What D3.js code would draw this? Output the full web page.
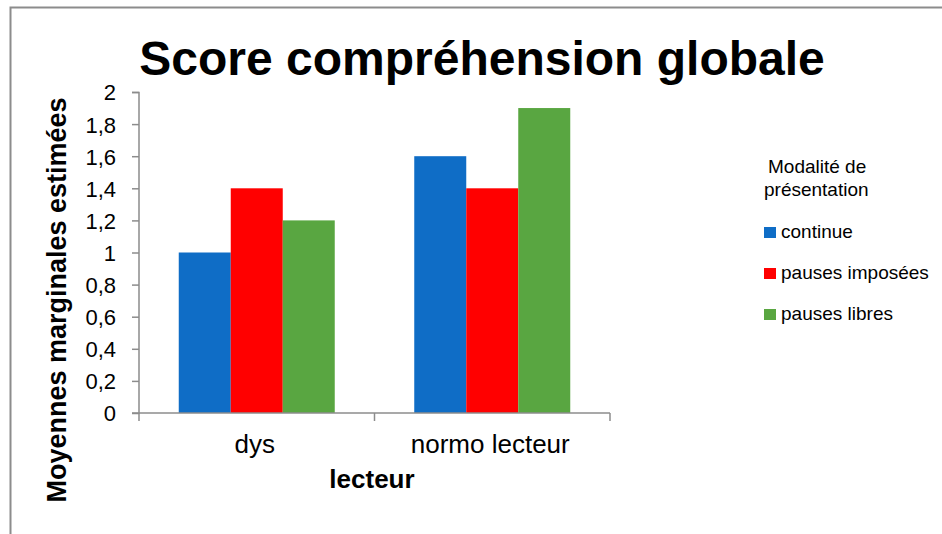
<!DOCTYPE html>
<html>
<head>
<meta charset="utf-8">
<script src="https://cdn.jsdelivr.net/npm/d3@7"></script>
<style>
  body { margin: 0; background: #fff; }
  text { font-family: "Liberation Sans", Arial, sans-serif; }
</style>
</head>
<body>
<script>
// data
var categories = ["dys", "normo lecteur"];
var seriesNames = ["continue", "pauses imposées", "pauses libres"];
var seriesColors = ["#0f6dc6", "#ff0000", "#59a641"];
var continueVals = [1, 1.6];
var imposeesVals = [1.4, 1.4];
var libresVals = [1.2, 1.9];
var yTicks = [0, 0.2, 0.4, 0.6, 0.8, 1, 1.2, 1.4, 1.6, 1.8, 2];

const canvWidth = 942, canvHeight = 534;
const margin = {top: 92, left: 139};
const width = 471, height = 321;

const svg = d3.select("body").append("svg")
    .attr("width", canvWidth)
    .attr("height", canvHeight);

// outer frame (only top and left visible)
svg.append("path")
    .attr("d", "M10.5,534 V7.5 H942")
    .attr("fill", "none")
    .attr("stroke", "#8c8c8c")
    .attr("stroke-width", 2);

const g = svg.append("g")
    .attr("transform", "translate(" + margin.left + "," + margin.top + ")");

var xScale = d3.scaleBand()
    .domain(categories)
    .range([0, width]);

var xInner = d3.scaleBand()
    .domain(seriesNames)
    .range([0, 156]);

var yScale = d3.scaleLinear()
    .domain([0, 2])
    .range([height, 0]);

var rows = [];
categories.forEach(function (c, i) {
    rows.push({cat: c, s: seriesNames[0], v: continueVals[i], col: seriesColors[0]});
    rows.push({cat: c, s: seriesNames[1], v: imposeesVals[i], col: seriesColors[1]});
    rows.push({cat: c, s: seriesNames[2], v: libresVals[i], col: seriesColors[2]});
});

var pad = (xScale.bandwidth() - 156) / 2;

g.selectAll("rect.bar")
    .data(rows)
    .enter()
    .append("rect")
    .attr("class", "bar")
    .attr("x", d => xScale(d.cat) + pad + xInner(d.s))
    .attr("y", d => yScale(d.v))
    .attr("width", xInner.bandwidth())
    .attr("height", d => height - yScale(d.v))
    .attr("fill", d => d.col);

// y axis
var yAxis = d3.axisLeft(yScale)
    .tickValues(yTicks)
    .tickSize(7)
    .tickPadding(16)
    .tickFormat(d => String(d).replace(".", ","));
var ya = g.append("g").call(yAxis);
ya.select(".domain").attr("stroke", "#8c8c8c").attr("stroke-width", 1.5)
    .attr("d", "M-7,0.5H0V" + height + "H-7");
ya.selectAll(".tick line").attr("stroke", "#8c8c8c").attr("stroke-width", 1.5);
ya.selectAll(".tick text").attr("font-size", 22).attr("fill", "#000")
    .attr("font-family", "Liberation Sans, Arial, sans-serif").attr("dy", "0.36em");

// x axis
var xa = g.append("g").attr("transform", "translate(0," + height + ")");
xa.append("line")
    .attr("x1", 0).attr("x2", width)
    .attr("stroke", "#8c8c8c").attr("stroke-width", 1.5);
xa.selectAll("line.tk")
    .data([0, 1, 2])
    .enter()
    .append("line")
    .attr("class", "tk")
    .attr("x1", d => d * xScale.step()).attr("x2", d => d * xScale.step())
    .attr("y1", 0).attr("y2", 8)
    .attr("stroke", "#8c8c8c").attr("stroke-width", 1.5);
xa.selectAll("text.cat")
    .data(categories)
    .enter()
    .append("text")
    .attr("class", "cat")
    .attr("x", d => xScale(d) + xScale.bandwidth() / 2 - 2)
    .attr("y", 40)
    .attr("text-anchor", "middle")
    .attr("font-size", 26)
    .text(d => d);

// titles
svg.append("text")
    .attr("x", 482).attr("y", 75)
    .attr("text-anchor", "middle")
    .attr("font-size", 48)
    .attr("font-weight", "bold")
    .text("Score compréhension globale");

svg.append("text")
    .attr("x", 372).attr("y", 488)
    .attr("text-anchor", "middle")
    .attr("font-size", 26)
    .attr("font-weight", "bold")
    .text("lecteur");

svg.append("text")
    .attr("transform", "translate(66,300) rotate(-90)")
    .attr("text-anchor", "middle")
    .attr("font-size", 27)
    .attr("font-weight", "bold")
    .text("Moyennes marginales estimées");

// legend
var lg = svg.append("g").attr("transform", "translate(764,0)");
lg.append("text").attr("x", 4).attr("y", 173).attr("font-size", 19)
    .attr("font-family", "Open Sans, sans-serif").text("Modalité de");
lg.append("text").attr("x", 0).attr("y", 196).attr("font-size", 19)
    .attr("font-family", "Open Sans, sans-serif").text("présentation");
var items = lg.selectAll("g.item")
    .data(seriesNames)
    .enter()
    .append("g")
    .attr("class", "item")
    .attr("transform", (d, i) => "translate(0," + (238 + i * 41) + ")");
items.append("rect")
    .attr("x", 0).attr("y", -11)
    .attr("width", 12).attr("height", 11)
    .attr("fill", (d, i) => seriesColors[i]);
items.append("text")
    .attr("x", 17).attr("y", 0)
    .attr("font-size", 19)
    .attr("font-family", "Open Sans, sans-serif")
    .text(d => d);
</script>
</body>
</html>
